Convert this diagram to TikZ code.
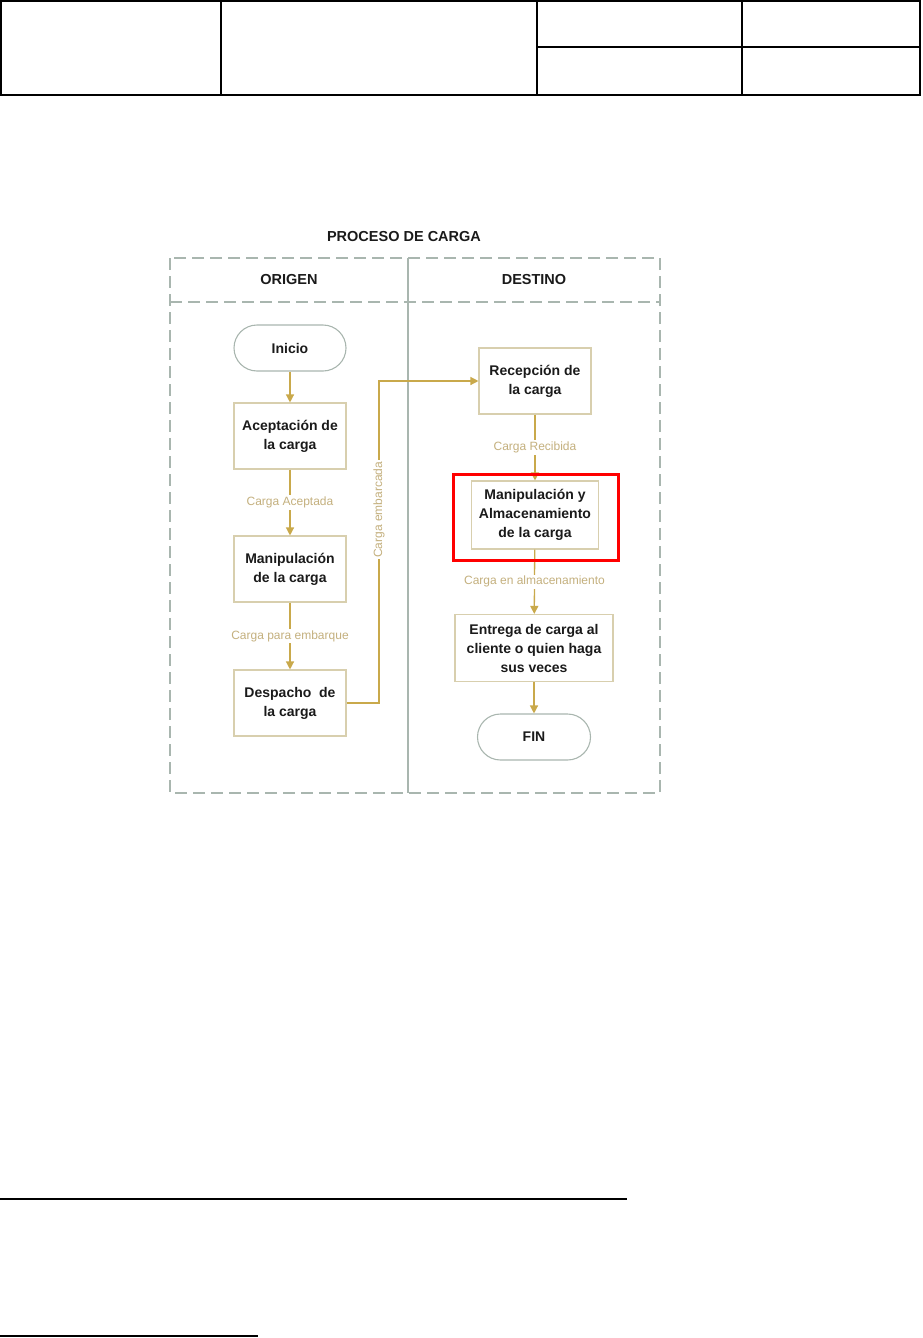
\documentclass[tikz,border=0pt]{standalone}
\usepackage{fontspec}
\setmainfont{Liberation Sans}
\usepackage{xcolor}
\usetikzlibrary{arrows.meta}
\definecolor{flowc}{HTML}{C9A94B}
\definecolor{lblc}{HTML}{C4B07E}
\definecolor{boxc}{HTML}{D8CFAE}
\definecolor{poolc}{HTML}{A9B6AF}
\definecolor{txtc}{HTML}{1A1A1A}
\begin{document}
\begin{tikzpicture}[x=1pt,y=-1pt,
  stepbox/.style={draw=boxc,line width=1.1pt,minimum width=112pt,minimum height=66pt,
    align=center,text=txtc,font=\fontsize{14}{19}\selectfont\bfseries,inner sep=2pt},
  termbox/.style={draw=poolc,line width=1.1pt,minimum width=112pt,minimum height=46pt,
    rounded corners=23pt,text=txtc,font=\fontsize{14}{19}\selectfont\bfseries},
  flow/.style={draw=flowc,line width=1.3pt,-{Triangle[length=8pt,width=8pt]}},
  lbl/.style={fill=white,text=lblc,font=\fontsize{12}{14}\selectfont,inner sep=1.5pt},
  lane/.style={draw=poolc,line width=1.2pt,dash pattern=on 12pt off 6pt}]
\useasboundingbox (0,0) rectangle (922,1338);

% Header table
\draw[line width=1.3pt] (1,1) rectangle (920,95);
\foreach \x in {221,537,742} {
    \draw[line width=1.3pt] (\x,1) -- (\x,95);
}
\draw[line width=1.3pt] (537,47) -- (920,47);

% Pool and lanes
\node[text=txtc,font=\fontsize{14.5}{16}\selectfont\bfseries] (title) at (404,237) {PROCESO DE CARGA};
\draw[lane] (170,258) rectangle (660,793);
\draw[lane] (170,302) -- (660,302);
\draw[draw=poolc,line width=1.2pt] (408,258) -- (408,793);
\node[text=txtc,font=\fontsize{14.5}{16}\selectfont\bfseries] (origen) at (289,280) {ORIGEN};
\node[text=txtc,font=\fontsize{14.5}{16}\selectfont\bfseries] (destino) at (534,280) {DESTINO};

% Origen lane
\node[termbox] (inicio) at (290,348) {Inicio};
\node[stepbox] (acept) at (290,436) {Aceptación de\\la carga};
\node[stepbox] (manip) at (290,569) {Manipulación\\de la carga};
\node[stepbox] (desp) at (290,703) {Despacho\ \ de\\la carga};

% Destino lane
\node[stepbox] (recep) at (535,381) {Recepción de\\la carga};
\node[stepbox,minimum width=127pt,minimum height=68pt] (almac) at (535,515) {Manipulación y\\Almacenamiento\\de la carga};
\node[stepbox,minimum width=158pt,minimum height=67pt] (entrega) at (534,648) {Entrega de carga al\\cliente o quien haga\\sus veces};
\node[termbox,minimum width=113pt] (fin) at (534,737) {FIN};

% Flows
\draw[flow] (inicio) -- (acept);
\draw[flow] (acept) -- node[lbl] {Carga Aceptada} (manip);
\draw[flow] (manip) -- node[lbl] {Carga para embarque} (desp);
\coordinate (up1) at (379,703);
\coordinate (up2) at (379,381);
\draw[flow] (desp.east) -- (up1) -- node[lbl,pos=0.6,rotate=90] {Carga embarcada} (up2) -- (recep.west);
\draw[flow] (recep) -- node[lbl] {Carga Recibida} (almac);
\draw[flow] (almac) -- node[lbl] {Carga en almacenamiento} (entrega);
\draw[flow] (entrega) -- (fin);

% Highlight
\draw[red,line width=3pt] (453,474) rectangle (618,560);

% Footer rules
\draw[line width=1.2pt] (0,1199) -- (627,1199);
\draw[line width=1.2pt] (0,1336) -- (258,1336);
\end{tikzpicture}
\end{document}
